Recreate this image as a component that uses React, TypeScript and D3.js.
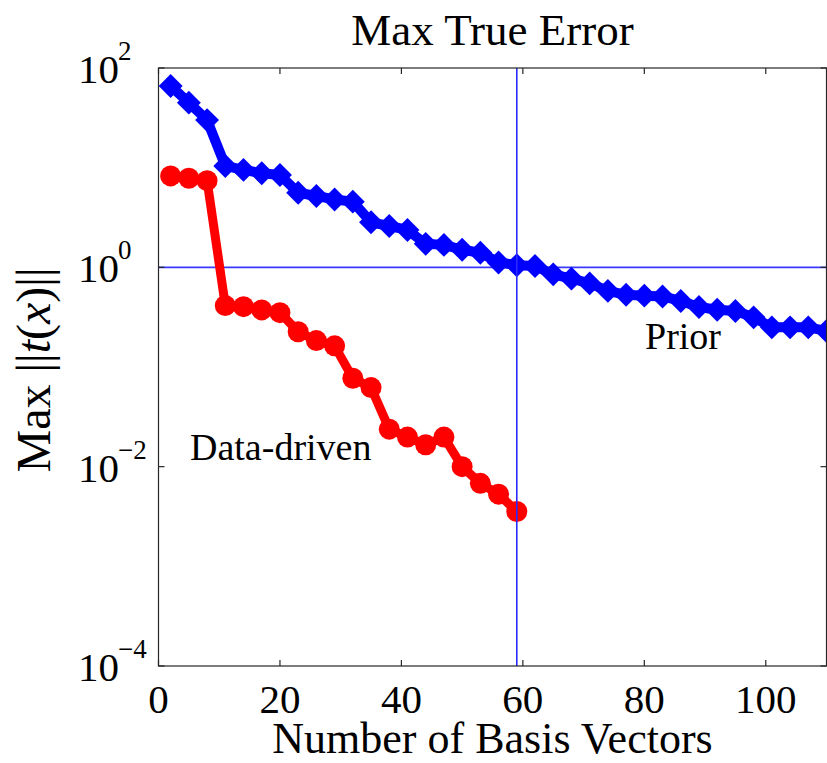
import React from "react";
import * as d3 from "d3";

const priorX = [2, 5, 8, 11, 14, 17, 20, 23, 26, 29, 32, 35, 38, 41, 44, 47, 50, 53, 56, 59, 62, 65, 68, 71, 74, 77, 80, 83, 86, 89, 92, 95, 98, 101, 104, 107, 110];
const priorY = [66, 44.9, 30, 10.4, 9.5, 8.8, 8.45, 5.6, 5.2, 4.8, 4.56, 2.83, 2.6, 2.37, 1.72, 1.68, 1.5, 1.4, 1.12, 1.05, 1.03, 0.85, 0.77, 0.69, 0.58, 0.53, 0.52, 0.51, 0.46, 0.4, 0.375, 0.365, 0.315, 0.25, 0.25, 0.25, 0.23];

const dataX = [2, 5, 8, 11, 14, 17, 20, 23, 26, 29, 32, 35, 38, 41, 44, 47, 50, 53, 56, 59];
const dataY = [8.26, 7.83, 7.41, 0.413, 0.403, 0.374, 0.351, 0.226, 0.184, 0.163, 0.0772, 0.0621, 0.0238, 0.0198, 0.0166, 0.0198, 0.01, 0.0068, 0.0053, 0.00355];

const xTicks = [0, 20, 40, 60, 80, 100];
const yTickExps = [2, 0, -2, -4];
const refX = 59;
const refY = 1;

const W = 827;
const H = 763;
const L = 158.5;
const R = 826.5;
const T = 68;
const B = 666;
const FONT = "'Liberation Serif', 'Times New Roman', serif";

export default function App() {
  const x = d3.scaleLinear().domain([0, 110]).range([L, R]);
  const y = d3.scaleLog().domain([1e-4, 1e2]).range([B, T]);

  const prior = priorX.map((v, i) => [v, priorY[i]] as [number, number]);
  const data = dataX.map((v, i) => [v, dataY[i]] as [number, number]);
  const line = d3
    .line<[number, number]>()
    .x((d) => x(d[0]))
    .y((d) => y(d[1]));
  const half = 13.5;
  const diamond = d3.symbol().type(d3.symbolDiamond2).size(2 * half * half)();

  const tickLen = 6;
  const axisColor = "#262626";

  return (
    <svg
      width={W}
      height={H}
      style={{ position: "absolute", left: 0, top: 0, background: "#fff" }}
      fontFamily={FONT}
    >
      <rect x={0} y={0} width={W} height={H} fill="#fff" />
      {/* horizontal reference line (under data) */}
      <line x1={L} x2={R} y1={y(refY)} y2={y(refY)} stroke="#3a3aff" strokeWidth={1.8} />

      {/* Prior series */}
      <path d={line(prior) || ""} fill="none" stroke="#0000ff" strokeWidth={10} strokeLinejoin="round" />
      {prior.map((d, i) => (
        <path key={"p" + i} d={diamond || ""} transform={`translate(${x(d[0])},${y(d[1])})`} fill="#0000ff" />
      ))}

      {/* Data-driven series */}
      <path d={line(data) || ""} fill="none" stroke="#ff0000" strokeWidth={9} strokeLinejoin="round" />
      {data.map((d, i) => (
        <circle key={"d" + i} cx={x(d[0])} cy={y(d[1])} r={10.5} fill="#ff0000" />
      ))}

      {/* vertical reference line (over data) */}
      <line x1={x(refX)} x2={x(refX)} y1={T} y2={B} stroke="#2a2aff" strokeWidth={1.6} />

      {/* axes box */}
      <rect x={L} y={T} width={R - L} height={B - T} fill="none" stroke={axisColor} strokeWidth={1.2} />
      {xTicks.map((t) => (
        <g key={"xt" + t}>
          <line x1={x(t)} x2={x(t)} y1={B} y2={B - tickLen} stroke={axisColor} strokeWidth={1.2} />
          <line x1={x(t)} x2={x(t)} y1={T} y2={T + tickLen} stroke={axisColor} strokeWidth={1.2} />
          <text x={x(t)} y={713} textAnchor="middle" fontSize={41} fill="#000">
            {t}
          </text>
        </g>
      ))}
      {yTickExps.map((e) => {
        const yy = y(Math.pow(10, e));
        return (
          <g key={"yt" + e}>
            <line x1={L} x2={L + tickLen} y1={yy} y2={yy} stroke={axisColor} strokeWidth={1.2} />
            <line x1={R} x2={R - tickLen} y1={yy} y2={yy} stroke={axisColor} strokeWidth={1.2} />
            <text x={78} y={yy + 15} fontSize={41} fill="#000">
              10
            </text>
            <text x={118} y={yy - 8} fontSize={27} fill="#000">
              {e < 0 ? "\u2212" + Math.abs(e) : String(e)}
            </text>
          </g>
        );
      })}

      {/* title */}
      <text x={(L + R) / 2} y={45} textAnchor="middle" fontSize={45} fill="#000">
        Max True Error
      </text>
      {/* x label */}
      <text x={(L + R) / 2} y={753} textAnchor="middle" fontSize={44} fill="#000">
        Number of Basis Vectors
      </text>
      {/* y label */}
      <text transform="translate(50,370) rotate(-90)" textAnchor="middle" fontSize={48} fill="#000">
        Max{" "}
        <tspan>||</tspan>
        <tspan fontStyle="italic">t</tspan>
        <tspan>(</tspan>
        <tspan fontStyle="italic">x</tspan>
        <tspan>)</tspan>
        <tspan>||</tspan>
      </text>

      {/* annotations */}
      <text x={190} y={460} fontSize={38} fill="#000">
        Data-driven
      </text>
      <text x={645} y={349} fontSize={38} fill="#000">
        Prior
      </text>
    </svg>
  );
}
